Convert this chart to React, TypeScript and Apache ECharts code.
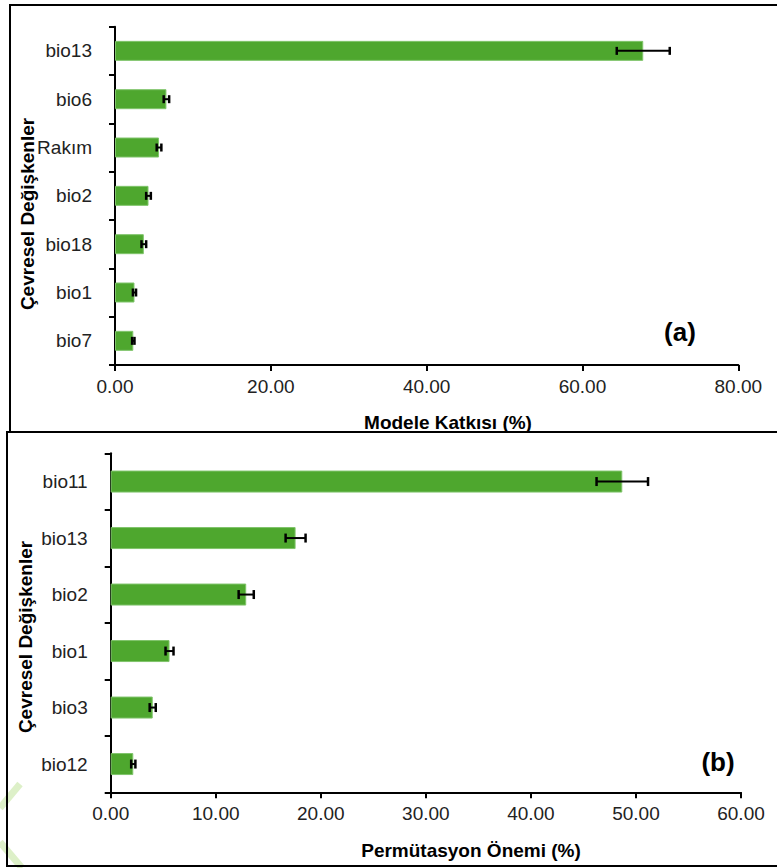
import React, { useEffect, useRef } from "react";
import * as echarts from "echarts";

const catsA = ["bio13", "bio6", "Rakım", "bio2", "bio18", "bio1", "bio7"];
const valsA = [67.8, 6.6, 5.65, 4.3, 3.7, 2.5, 2.35];
const errA = [3.4, 0.35, 0.3, 0.3, 0.3, 0.2, 0.15];
const ticksA = [0, 20, 40, 60, 80];

const catsB = ["bio11", "bio13", "bio2", "bio1", "bio3", "bio12"];
const valsB = [48.7, 17.6, 12.9, 5.6, 4.0, 2.15];
const errB = [2.45, 0.95, 0.72, 0.38, 0.29, 0.2];
const ticksB = [0, 10, 20, 30, 40, 50, 60];

const titleYA = "Çevresel Değişkenler";
const titleXA = "Modele Katkısı (%)";
const titleYB = "Çevresel Değişkenler";
const titleXB = "Permütasyon Önemi (%)";

const GREEN = "#4ea72e";
const FONT = "'Liberation Sans', Arial, sans-serif";

function errData(vals: number[], errs: number[]) {
  return vals.map((v, i) => [v - errs[i], v + errs[i], i]);
}

function makeErrRender(cap: number) {
  return (params: any, api: any) => {
    const lo = api.value(0);
    const hi = api.value(1);
    const idx = api.value(2);
    const p1 = api.coord([lo, idx]);
    const p2 = api.coord([hi, idx]);
    const st = { stroke: "#000", lineWidth: 2 };
    return {
      type: "group",
      children: [
        { type: "line", shape: { x1: p1[0], y1: p1[1], x2: p2[0], y2: p2[1] }, style: st },
        { type: "line", shape: { x1: p1[0], y1: p1[1] - cap / 2, x2: p1[0], y2: p1[1] + cap / 2 }, style: { ...st, lineWidth: 2.5 } },
        { type: "line", shape: { x1: p2[0], y1: p2[1] - cap / 2, x2: p2[0], y2: p2[1] + cap / 2 }, style: { ...st, lineWidth: 2.5 } },
      ],
    };
  };
}

function xAxisCfg(gridIndex: number, max: number, interval: number) {
  return {
    type: "value",
    gridIndex,
    min: 0,
    max,
    interval,
    axisLine: { show: true, lineStyle: { color: "#000", width: 2 } },
    axisTick: { show: true, inside: false, length: 6, lineStyle: { color: "#000", width: 2 } },
    splitLine: { show: false },
    axisLabel: {
      color: "#222",
      fontSize: 19,
      fontFamily: FONT,
      margin: 12,
      formatter: (v: number) => v.toFixed(2),
    },
  };
}

function yAxisCfg(gridIndex: number, cats: string[]) {
  return {
    type: "category",
    gridIndex,
    data: cats,
    inverse: true,
    axisLine: { show: true, lineStyle: { color: "#000", width: 2 } },
    axisTick: { show: true, inside: false, length: 6, alignWithLabel: false, lineStyle: { color: "#000", width: 2 } },
    splitLine: { show: false },
    axisLabel: { color: "#222", fontSize: 19, fontFamily: FONT, margin: 23 },
  };
}

export default function App() {
  const ref = useRef<HTMLDivElement>(null);
  useEffect(() => {
    if (!ref.current) return;
    const chart = echarts.init(ref.current, undefined, { renderer: "svg" });
    const titleStyle = (text: string) => ({
      text,
      font: `bold 19px ${FONT}`,
      fill: "#000",
      textAlign: "center",
      textVerticalAlign: "middle",
    });
    chart.setOption({
      animation: false,
      backgroundColor: "#fff",
      grid: [
        { left: 115, top: 26.7, width: 623.3, height: 338.3, containLabel: false },
        { left: 110.7, top: 453.3, width: 630.3, height: 339, containLabel: false },
      ],
      xAxis: [xAxisCfg(0, ticksA[ticksA.length - 1], ticksA[1] - ticksA[0]), xAxisCfg(1, ticksB[ticksB.length - 1], ticksB[1] - ticksB[0])],
      yAxis: [yAxisCfg(0, catsA), yAxisCfg(1, catsB)],
      series: [
        {
          type: "bar",
          xAxisIndex: 0,
          yAxisIndex: 0,
          data: valsA,
          barWidth: 20,
          itemStyle: { color: GREEN, borderColor: "#7fc46a", borderWidth: 1 },
          z: 2,
        },
        {
          type: "custom",
          xAxisIndex: 0,
          yAxisIndex: 0,
          data: errData(valsA, errA),
          encode: { x: [0, 1], y: 2 },
          renderItem: makeErrRender(8),
          z: 3,
        },
        {
          type: "bar",
          xAxisIndex: 1,
          yAxisIndex: 1,
          data: valsB,
          barWidth: 22,
          itemStyle: { color: GREEN, borderColor: "#7fc46a", borderWidth: 1 },
          z: 2,
        },
        {
          type: "custom",
          xAxisIndex: 1,
          yAxisIndex: 1,
          data: errData(valsB, errB),
          encode: { x: [0, 1], y: 2 },
          renderItem: makeErrRender(9),
          z: 3,
        },
      ],
      graphic: [
        { type: "line", shape: { x1: 0, y1: 808, x2: 20, y2: 784 }, style: { stroke: "#ddf0c8", lineWidth: 7 }, z: -1 },
        { type: "line", shape: { x1: 0, y1: 842, x2: 22, y2: 868 }, style: { stroke: "#ddf0c8", lineWidth: 7 }, z: -1 },
        { type: "rect", shape: { x: 10, y: 5, width: 800, height: 427 }, style: { fill: "none", stroke: "#000", lineWidth: 2 } },
        { type: "rect", shape: { x: 7, y: 432, width: 800, height: 434 }, style: { fill: "none", stroke: "#000", lineWidth: 2 } },
        { type: "text", x: 27, y: 214, rotation: Math.PI / 2, style: titleStyle(titleYA) },
        { type: "text", x: 448, y: 422, style: titleStyle(titleXA) },
        { type: "text", x: 25, y: 637, rotation: Math.PI / 2, style: titleStyle(titleYB) },
        { type: "text", x: 471, y: 850, style: titleStyle(titleXB) },
        { type: "text", x: 680, y: 332, style: { ...titleStyle("(a)"), font: `bold 26px ${FONT}` } },
        { type: "text", x: 718, y: 762, style: { ...titleStyle("(b)"), font: `bold 26px ${FONT}` } },
      ],
    });
    return () => chart.dispose();
  }, []);
  return (
    <div
      ref={ref}
      style={{ position: "absolute", left: 0, top: 0, width: 777, height: 868, background: "#fff" }}
    />
  );
}
